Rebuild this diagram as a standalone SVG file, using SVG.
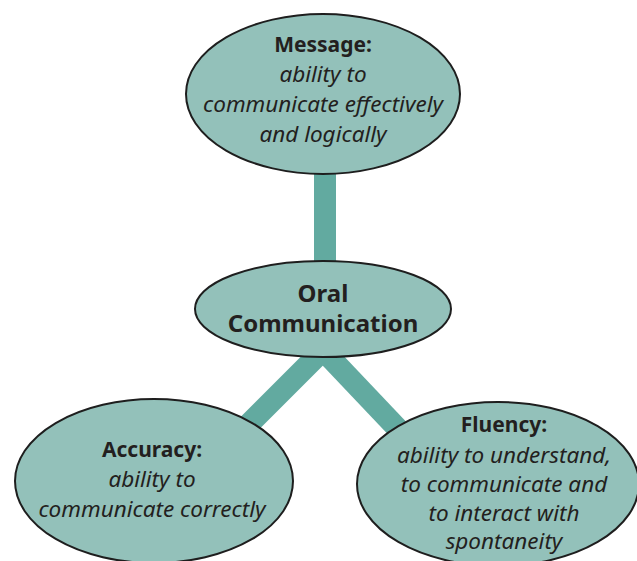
<svg xmlns="http://www.w3.org/2000/svg" width="637" height="561" viewBox="0 0 637 561">
<style>
.n{fill:#93c1ba;stroke:#1e1e1e;stroke-width:2}
.c{stroke:#62aaa0;stroke-width:22;fill:none}
text{font-family:"Noto Sans","Open Sans",sans-serif;fill:#231f20;text-anchor:middle}
.h{font-weight:bold;font-size:21px}
.i{font-style:italic;font-size:22.5px}
.t{font-weight:bold;font-size:24px}
</style>
<rect width="637" height="561" fill="#fff"/>
<g id="connectors">
<line class="c" x1="325" y1="170" x2="325" y2="268"/>
<line class="c" x1="323" y1="350" x2="230" y2="443"/>
<line class="c" x1="323" y1="350" x2="415" y2="447"/>
</g>
<g id="message">
<ellipse class="n" cx="323" cy="94" rx="137" ry="80"/>
<text class="h" x="323" y="52">Message:</text>
<text class="i" x="323" y="82">ability to</text>
<text class="i" x="323" y="112">communicate effectively</text>
<text class="i" x="323" y="142">and logically</text>
</g>
<g id="oral">
<ellipse class="n" cx="323" cy="309" rx="128" ry="48"/>
<text class="t" x="323" y="302">Oral</text>
<text class="t" x="323" y="332">Communication</text>
</g>
<g id="accuracy">
<ellipse class="n" cx="154" cy="481" rx="139" ry="82"/>
<text class="h" x="152" y="457">Accuracy:</text>
<text class="i" x="152" y="487">ability to</text>
<text class="i" x="152" y="517">communicate correctly</text>
</g>
<g id="fluency">
<ellipse class="n" cx="498" cy="484" rx="141" ry="82"/>
<text class="h" x="504" y="432">Fluency:</text>
<text class="i" x="504" y="463">ability to understand,</text>
<text class="i" x="504" y="492">to communicate and</text>
<text class="i" x="504" y="521">to interact with</text>
<text class="i" x="504" y="549">spontaneity</text>
</g>
</svg>
